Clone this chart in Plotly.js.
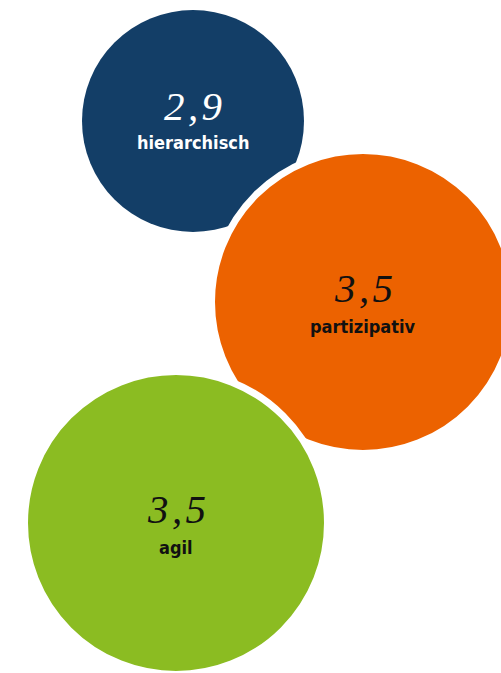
<!DOCTYPE html>
<html>
<head>
<meta charset="utf-8">
<script src="https://cdn.plot.ly/plotly-3.0.1.min.js"></script>
<style>html,body{margin:0;padding:0;background:#fff;}#chart{width:501px;height:673px;}</style>
</head>
<body>
<div id="chart"></div>
<script>
// ---- data ----
const categories = ["hierarchisch", "partizipativ", "agil"];
const values = [2.9, 3.5, 3.5];
const valueLabels = ["2,9", "3,5", "3,5"];

// ---- layout (pixel-like coordinate system) ----
const centerX = [193, 363, 176];
const centerY = [121, 302, 523];
const fillColors = ["#133e67", "#ec6200", "#8bbc22"];
const textColors = ["#ffffff", "#111111", "#111111"];
const outlineWidths = [0, 7, 7];

// bubble diameter scale
function diameter(v) { return 123.33 * (v - 1.1); }
const sizes = values.map((v, i) => diameter(v) + outlineWidths[i]);

const trace = {
  type: "scatter",
  mode: "markers",
  x: centerX,
  y: centerY,
  marker: {
    size: sizes,
    sizemode: "diameter",
    color: fillColors,
    opacity: 1,
    line: { color: "#ffffff", width: outlineWidths }
  },
  hoverinfo: "skip",
  cliponaxis: true
};

const annotations = [];
categories.forEach((c, i) => {
  annotations.push({
    x: centerX[i], y: centerY[i], xref: "x", yref: "y",
    text: valueLabels[i].replace(",", "\u200A,\u200A"), showarrow: false,
    xanchor: "center", yanchor: "middle",
    yshift: i === 0 ? 15 : 14,
    font: { family: "Liberation Serif, serif", size: 41, style: "italic", color: textColors[i] }
  });
  annotations.push({
    x: centerX[i], y: centerY[i], xref: "x", yref: "y",
    text: c, showarrow: false,
    xanchor: "center", yanchor: "middle",
    yshift: i === 0 ? -21 : -24,
    font: { family: "DejaVu Sans Condensed, DejaVu Sans, sans-serif", size: 18, weight: "bold", color: textColors[i] }
  });
});

const layout = {
  width: 501, height: 673,
  margin: { l: 0, r: 0, t: 0, b: 0, pad: 0 },
  paper_bgcolor: "#ffffff", plot_bgcolor: "#ffffff",
  showlegend: false,
  xaxis: { range: [0, 501], visible: false, fixedrange: true },
  yaxis: { range: [673, 0], visible: false, fixedrange: true },
  annotations: annotations
};

Plotly.newPlot("chart", [trace], layout, { staticPlot: true, displayModeBar: false });
</script>
</body>
</html>
